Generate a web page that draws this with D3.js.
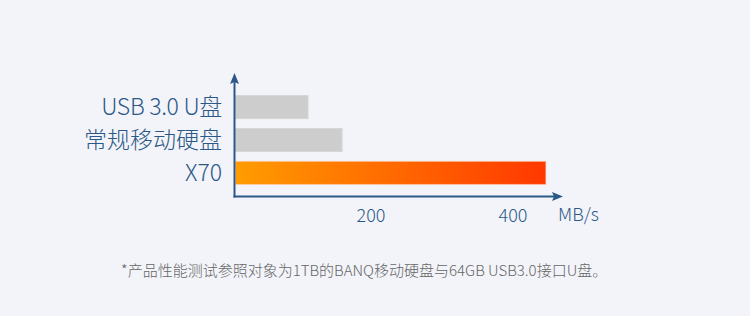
<!DOCTYPE html>
<html><head><meta charset="utf-8">
<script src="https://cdn.jsdelivr.net/npm/d3@7"></script>
<style>
html,body{margin:0;padding:0;background:#f3f4f9;}
svg{display:block;}
</style></head>
<body>
<script>
const categories = ["USB 3.0 U盘", "常规移动硬盘", "X70"];
const speeds = [112, 160, 447];
const tickValues = [200, 400];
const unitLabel = "MB/s";
const footnote = "*产品性能测试参照对象为1TB的BANQ移动硬盘与64GB USB3.0接口U盘。";

const W = 750, H = 316;
const font = "'Noto Sans CJK SC','Noto Sans',sans-serif";
const axisColor = "#2b5887";
const svg = d3.select("body").append("svg").attr("width", W).attr("height", H);
svg.append("rect").attr("width", W).attr("height", H).attr("fill", "#f3f4f9");

const axisX = 234.5, axisY = 196.5;
const x = d3.scaleLinear().domain([0, 400]).range([228.5, 512.5]);
const y = d3.scaleBand().domain(categories).range([97 - 4.7, 183 + 4.7]).paddingInner(0.3).paddingOuter(0.1);

const defs = svg.append("defs");
const grad = defs.append("linearGradient").attr("id", "g1").attr("x1", "0%").attr("x2", "100%");
grad.append("stop").attr("offset", "0%").attr("stop-color", "#ff9c00");
grad.append("stop").attr("offset", "50%").attr("stop-color", "#ff6a00");
grad.append("stop").attr("offset", "100%").attr("stop-color", "#ff3800");

// bars
svg.append("g").selectAll("rect").data(categories).join("rect")
  .attr("x", axisX + 1)
  .attr("y", d => y(d))
  .attr("width", (d, i) => x(speeds[i]) - axisX - 1)
  .attr("height", y.bandwidth())
  .attr("fill", (d, i) => i === 2 ? "url(#g1)" : "#cdcdcd")
  .attr("stroke", (d, i) => i === 2 ? "rgba(255,200,170,0.6)" : "#d6d6d6")
  .attr("stroke-width", 1);

// category labels
svg.append("g").selectAll("text").data(categories).join("text")
  .attr("x", 222)
  .attr("y", d => y(d) + y.bandwidth() / 2)
  .attr("dy", "0.36em")
  .attr("text-anchor", "end")
  .attr("font-family", font)
  .attr("font-weight", 300)
  .attr("font-size", 23)
  .attr("letter-spacing", (d, i) => i === 0 ? -0.3 : 0)
  .attr("fill", axisColor)
  .text(d => d);

// axes lines with arrows
svg.append("line").attr("x1", axisX).attr("x2", axisX).attr("y1", 82).attr("y2", axisY + 1)
  .attr("stroke", axisColor).attr("stroke-width", 2);
svg.append("path").attr("d", `M${axisX},73 L${axisX + 4.5},84 L${axisX},82 L${axisX - 4.5},84 Z`)
  .attr("fill", axisColor);
svg.append("line").attr("x1", axisX - 1).attr("x2", 555).attr("y1", axisY).attr("y2", axisY)
  .attr("stroke", axisColor).attr("stroke-width", 2);
svg.append("path").attr("d", `M563,${axisY} L552,${axisY - 4.5} L554,${axisY} L552,${axisY + 4.5} Z`)
  .attr("fill", axisColor);

// tick labels via axis
const ax = d3.axisBottom(x).tickValues(tickValues).tickSize(0).tickPadding(0);
const gAx = svg.append("g").attr("transform", `translate(0,${axisY})`).call(ax);
gAx.select(".domain").remove();
gAx.selectAll("text")
  .attr("y", 25).attr("dy", 0)
  .attr("font-family", font).attr("font-weight", 300).attr("font-size", 18)
  .attr("fill", axisColor);

svg.append("text").attr("x", 558).attr("y", 221)
  .attr("font-family", font).attr("font-weight", 300).attr("font-size", 18)
  .attr("fill", axisColor).text(unitLabel);

svg.append("text").attr("x", 121).attr("y", 276)
  .attr("font-family", font).attr("font-weight", 300).attr("font-size", 15)
  .attr("fill", "#666").text(footnote);
</script>
</body></html>
